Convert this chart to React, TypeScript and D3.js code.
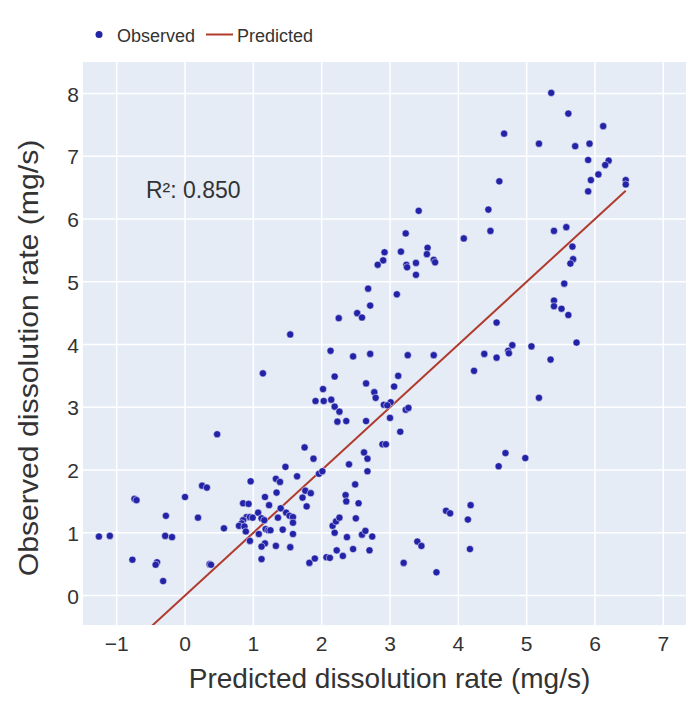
import React from "react";
import * as d3 from "d3";

const predicted: number[] = [
  5.36, 5.61, 6.12, 4.67, 5.18, 5.71, 5.92, 5.90, 6.20, 6.15, 6.05, 5.94, 6.45, 6.45, 5.90,
  3.42, 4.60, 4.44, 4.47, 4.08, 5.40, 5.58, 5.67, 5.68, 5.64, 5.55, 5.40, 5.40, 5.51, 5.61,
  4.56, 3.23, 2.92, 2.90, 3.16, 3.24, 3.25, 3.38, 3.55, 3.54, 3.64, 3.66, 3.38, 3.10,
  2.82, 2.68, 2.71, 2.52, 2.59, 2.25, 1.54,
  2.13, 2.46, 2.71, 1.14, 2.19, 2.65, 2.77, 2.79, 2.02, 1.91, 2.03, 2.14, 2.19, 2.26, 2.23,
  2.36, 2.65, 0.47, 1.75, 1.88, 2.62, 2.67, 2.40, 2.67, 1.96, 2.01, 1.47, 1.64, 1.33, 1.39,
  0.96, 1.34, 1.76, 1.84, 1.72, 1.78, 2.49, 2.35, 2.36, 2.54, 1.17, 1.23, 0.85, 0.93, 1.40,
  1.07, 1.48, 1.53, 1.58, 1.36, 1.58, 0.90, 0.95, 0.99, 0.85, 0.83, 0.79, 1.12, 1.16, 1.18,
  1.22, 1.25, 0.87, 0.89, 1.08, 1.43, 1.58, 0.95, 1.17, 1.12, 1.33, 1.54, 1.12, 0.57, 0.19,
  0.00, 0.25, 0.32, -0.74, -0.71, -0.28, -1.26, -1.10, -0.29, -0.19, -0.77, -0.41, -0.43,
  -0.32, 0.36, 0.38, 1.82, 1.90, 2.07, 2.12, 2.22, 2.31, 2.46, 2.70, 2.16, 2.21, 2.26, 2.19,
  2.37, 2.50, 2.59, 2.64, 2.74,
  3.26, 3.64, 3.12, 3.06, 2.91, 3.01, 2.96, 3.23, 3.27, 3.00, 3.15, 2.89, 2.94, 4.23, 4.38,
  4.56, 4.73, 4.74, 4.79, 5.07, 5.35, 5.73, 5.18, 4.69, 4.59, 4.98, 4.18, 3.82, 3.88, 4.14,
  3.40, 3.46, 4.17, 3.20, 3.68,
];

const observed: number[] = [
  8.01, 7.68, 7.48, 7.36, 7.20, 7.16, 7.20, 6.94, 6.93, 6.86, 6.71, 6.62, 6.62, 6.55, 6.44,
  6.13, 6.60, 6.15, 5.81, 5.69, 5.81, 5.87, 5.56, 5.36, 5.29, 4.97, 4.70, 4.61, 4.57, 4.47,
  4.35, 5.77, 5.47, 5.34, 5.48, 5.27, 5.23, 5.30, 5.54, 5.44, 5.35, 5.31, 5.11, 4.80,
  5.27, 4.89, 4.62, 4.50, 4.43, 4.42, 4.16,
  3.90, 3.81, 3.85, 3.54, 3.49, 3.38, 3.24, 3.15, 3.29, 3.10, 3.10, 3.12, 3.01, 2.93, 2.77,
  2.78, 2.78, 2.57, 2.36, 2.18, 2.28, 2.18, 2.09, 1.98, 1.94, 1.98, 2.05, 1.90, 1.86, 1.81,
  1.82, 1.64, 1.67, 1.63, 1.56, 1.42, 1.77, 1.60, 1.50, 1.47, 1.57, 1.44, 1.47, 1.46, 1.39,
  1.32, 1.32, 1.27, 1.25, 1.24, 1.16, 1.25, 1.25, 1.24, 1.20, 1.15, 1.11, 1.23, 1.20, 1.06,
  1.04, 1.04, 1.10, 1.02, 0.98, 1.05, 0.98, 0.87, 0.83, 0.78, 0.79, 0.77, 0.58, 1.07, 1.24,
  1.57, 1.75, 1.72, 1.54, 1.52, 1.27, 0.94, 0.95, 0.95, 0.93, 0.57, 0.53, 0.49,
  0.23, 0.50, 0.49, 0.52, 0.59, 0.61, 0.60, 0.72, 0.63, 0.74, 0.72, 1.11, 1.18, 1.24, 1.00,
  0.93, 1.23, 0.97, 1.03, 0.94,
  3.83, 3.83, 3.50, 3.33, 3.04, 3.08, 3.03, 2.96, 2.99, 2.83, 2.61, 2.41, 2.41, 3.58, 3.85,
  3.79, 3.90, 3.86, 3.99, 3.97, 3.76, 4.03, 3.15, 2.27, 2.06, 2.19, 1.44, 1.35, 1.31, 1.21,
  0.86, 0.79, 0.74, 0.52, 0.37,
];

const xTicks = [-1, 0, 1, 2, 3, 4, 5, 6, 7];
const yTicks = [0, 1, 2, 3, 4, 5, 6, 7, 8];
const fitRange = [-1.26, 6.45];
const r2Label = "R²: 0.850";
const seriesNames = ["Observed", "Predicted"];
const xTitle = "Predicted dissolution rate (mg/s)";
const yTitle = "Observed dissolution rate (mg/s)";

const W = 686;
const H = 710;
const left = 83;
const right = 686;
const top = 62;
const bottom = 625;

const FONT = "'Liberation Sans', Arial, sans-serif";
const TEXT = "#333";
const DOT = "#2323a8";
const LINE = "#b03a2e";

export default function App() {
  const x = d3.scaleLinear().domain([-1.493, 7.332]).range([left, right]);
  const y = d3.scaleLinear().domain([-0.47, 8.502]).range([bottom, top]);
  const pts = predicted.map((p, i) => [p, observed[i]] as [number, number]);
  const line = d3
    .line<number>()
    .x((d) => x(d))
    .y((d) => y(d));

  return (
    <svg
      width={W}
      height={H}
      style={{ position: "absolute", left: 0, top: 0, background: "#fff" }}
      fontFamily={FONT}
    >
      <defs>
        <clipPath id="plotclip">
          <rect x={left} y={top} width={right - left} height={bottom - top} />
        </clipPath>
      </defs>
      <rect x={left} y={top} width={right - left} height={bottom - top} fill="#e5ecf6" />
      {xTicks.map((t) => (
        <line key={"gx" + t} x1={x(t)} x2={x(t)} y1={top} y2={bottom} stroke="#fff" strokeWidth={1.5} />
      ))}
      {yTicks.map((t) => (
        <line key={"gy" + t} x1={left} x2={right} y1={y(t)} y2={y(t)} stroke="#fff" strokeWidth={1.5} />
      ))}
      {xTicks.map((t) => (
        <text key={"tx" + t} x={x(t)} y={651} textAnchor="middle" fontSize={21} fill={TEXT}>
          {t < 0 ? "−" + Math.abs(t) : t}
        </text>
      ))}
      {yTicks.map((t) => (
        <text key={"ty" + t} x={79} y={y(t) + 8} textAnchor="end" fontSize={21} fill={TEXT}>
          {t}
        </text>
      ))}
      <g clipPath="url(#plotclip)">
        <path d={line(fitRange) || ""} stroke={LINE} strokeWidth={2} fill="none" />
        {pts.map((d, i) => (
          <circle key={i} cx={x(d[0])} cy={y(d[1])} r={3.6} fill={DOT} stroke="#fff" strokeWidth={0.5} />
        ))}
      </g>
      <text x={146} y={198} fontSize={23} fill={TEXT}>
        {r2Label}
      </text>
      <text x={389.5} y={688} textAnchor="middle" fontSize={28} fill={TEXT}>
        {xTitle}
      </text>
      <text
        transform={`translate(38, 358) rotate(-90) scale(1.08, 1)`}
        textAnchor="middle"
        fontSize={28}
        fill={TEXT}
      >
        {yTitle}
      </text>
      <circle cx={99} cy={34.5} r={3.5} fill={DOT} />
      <text x={117} y={42} fontSize={18} fill={TEXT}>
        {seriesNames[0]}
      </text>
      <line x1={206} x2={233} y1={34.5} y2={34.5} stroke={LINE} strokeWidth={2} />
      <text x={237} y={42} fontSize={18} fill={TEXT}>
        {seriesNames[1]}
      </text>
    </svg>
  );
}
